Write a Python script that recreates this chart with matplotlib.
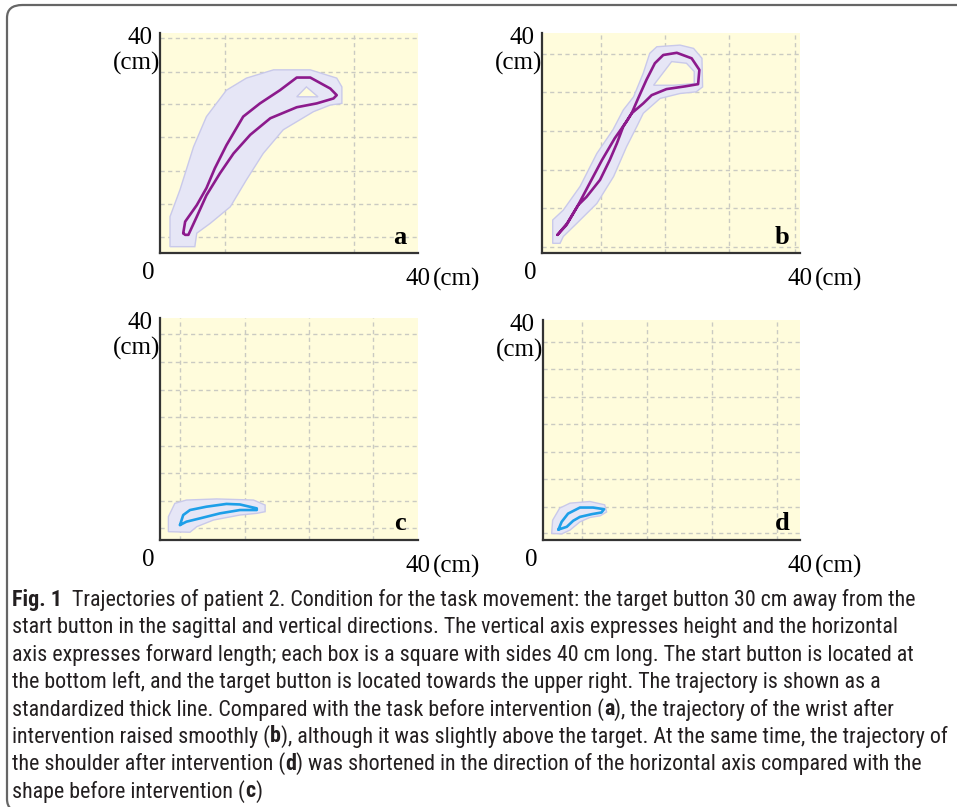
import matplotlib
matplotlib.use('Agg')
import matplotlib.pyplot as plt
from matplotlib import font_manager
from matplotlib.patches import FancyBboxPatch

W, H = 957, 807

# panel a - wrist, before intervention (cm)
a_loop_x = [3.6, 3.9, 5.7, 7.2, 8.5, 10.3, 12.9, 15.5, 18.6, 21.2, 23.3, 26.4, 27.4, 26.9,
            24.3, 21.2, 17.1, 14.0, 11.4, 9.3, 7.2, 5.7, 4.4, 3.9]
a_loop_y = [3.6, 5.7, 8.7, 11.8, 15.4, 19.6, 24.8, 27.2, 29.6, 31.9, 31.9, 29.9, 28.7, 28.1,
            27.2, 26.5, 24.5, 21.5, 18.1, 14.5, 10.5, 6.6, 3.3, 3.3]
a_band_x = [1.55, 1.55, 3.1, 5.2, 7.2, 10.3, 13.4, 17.6, 23.3, 27.4, 28.2, 28.2, 26.4, 23.8,
            19.1, 16.0, 13.4, 10.9, 7.8, 5.7, 5.4]
a_band_y = [1.15, 6.6, 11.5, 19.3, 24.8, 29.6, 31.8, 33.3, 33.3, 31.8, 30.2, 27.2, 26.9, 25.7,
            22.4, 18.1, 13.3, 8.4, 5.4, 3.6, 1.15]
a_hole_x = [22.7, 21.2, 24.5]
a_hole_y = [30.2, 28.4, 28.4]

# panel b - wrist, after intervention
b_loop_x = [2.4, 3.9, 5.6, 7.4, 9.3, 11.3, 13.1, 13.9, 15.7, 17.0, 19.3, 22.2, 24.2, 24.4,
            23.2, 20.9, 18.8, 17.5, 16.2, 14.9, 13.9, 12.6, 11.6, 10.5, 9.0, 6.9, 5.6, 3.8]
b_loop_y = [3.3, 5.4, 8.7, 12.7, 16.9, 20.9, 23.9, 25.4, 27.2, 28.7, 29.8, 30.3, 30.7, 33.3,
            35.4, 36.4, 36.0, 34.5, 31.5, 28.1, 25.4, 23.0, 19.9, 16.9, 13.3, 10.2, 8.7, 5.1]
b_band_x = [1.66, 1.66, 3.3, 5.9, 8.5, 11.0, 12.6, 14.2, 15.7, 16.7, 17.8, 21.4, 23.5, 24.8,
            24.9, 23.9, 21.4, 18.3, 15.7, 14.7, 13.1, 11.1, 8.5, 5.4, 3.3, 2.8]
b_band_y = [1.76, 6.0, 7.8, 12.1, 18.1, 22.4, 26.0, 28.4, 32.7, 36.3, 37.5, 37.8, 37.2, 35.4,
            30.2, 29.3, 29.0, 28.1, 25.4, 23.0, 19.3, 13.9, 9.0, 5.4, 3.0, 1.76]
b_hole_x = [17.3, 20.1, 22.4, 23.6, 23.6, 20.4]
b_hole_y = [30.5, 34.8, 34.5, 33.0, 30.8, 30.5]

# panel c - shoulder, before intervention
c_loop_x = [3.1, 3.6, 4.65, 7.2, 10.3, 12.4, 15.0, 15.0, 12.4, 9.3, 6.2, 4.1]
c_loop_y = [2.7, 4.5, 5.4, 6.0, 6.5, 6.4, 5.7, 5.4, 5.4, 4.8, 3.9, 3.3]
c_band_x = [1.3, 1.3, 2.3, 4.1, 8.8, 14.5, 16.3, 16.3, 15.0, 12.4, 8.3, 5.7, 4.65]
c_band_y = [1.5, 4.2, 6.6, 7.2, 7.4, 7.2, 6.3, 5.1, 4.8, 4.5, 3.6, 2.4, 1.4]

# panel d - shoulder, after intervention
d_loop_x = [2.4, 2.9, 3.9, 5.75, 7.8, 9.5, 9.1, 7.6, 5.75, 4.7, 3.7]
d_loop_y = [1.9, 3.3, 4.8, 5.9, 5.9, 5.6, 5.0, 4.7, 4.2, 3.5, 2.4]
d_band_x = [1.35, 1.5, 2.6, 4.2, 7.3, 9.6, 9.9, 8.9, 7.3, 5.75, 4.2, 2.9]
d_band_y = [1.2, 3.6, 5.8, 6.7, 7.0, 6.4, 5.1, 4.4, 4.1, 3.3, 1.8, 1.1]

# dashed grid of the recording screen (cm)
a_grid_x = [10.1, 30.1]
a_grid_y = [2.9, 8.9, 14.9, 21.1, 27.1, 32.9, 39.1]
b_grid_x = [9.1, 19.1, 29.0, 39.2]
b_grid_y = [1.1, 8.2, 15.1, 22.2, 29.3, 36.2]
c_grid_x = [3.1, 13.2, 23.1, 33.0]
c_grid_y = [2.2, 7.0, 12.1, 16.9, 22.2, 27.0, 32.1, 37.1]
d_grid_x = [6.1, 16.2, 26.3, 36.4]
d_grid_y = [1.3, 6.0, 11.1, 16.0, 21.1, 26.0, 31.1, 36.0]

caption = [
    [("Fig. 1", True), ("  Trajectories of patient 2. Condition for the task movement: the target button 30 cm away from the", False)],
    [("start button in the sagittal and vertical directions. The vertical axis expresses height and the horizontal", False)],
    [("axis expresses forward length; each box is a square with sides 40 cm long. The start button is located at", False)],
    [("the bottom left, and the target button is located towards the upper right. The trajectory is shown as a", False)],
    [("standardized thick line. Compared with the task before intervention (", False), ("a", True),
     ("), the trajectory of the wrist after", False)],
    [("intervention raised smoothly (", False), ("b", True),
     ("), although it was slightly above the target. At the same time, the trajectory of", False)],
    [("the shoulder after intervention (", False), ("d", True),
     (") was shortened in the direction of the horizontal axis compared with the", False)],
    [("shape before intervention (", False), ("c", True), (")", False)],
]

BG = '#fffcdc'
BAND = '#e6e6f6'
BAND_EDGE = '#c9c9ea'
GRID = '#cacac2'
PURPLE = '#8c1a8c'
BLUE = '#1e9fe8'
SERIF = 'Liberation Serif'

# a narrow sans for the caption if one is installed
CAP_FONT, CAP_STRETCH = 'Open Sans', 'normal'
fonts = font_manager.fontManager.ttflist
names = {f.name for f in fonts}
for nm in ['Liberation Sans Narrow', 'Roboto Condensed', 'Open Sans Condensed', 'DejaVu Sans Condensed']:
    if nm in names:
        CAP_FONT = nm
        break
else:
    for f in fonts:
        if f.name in ('Open Sans', 'Noto Sans', 'DejaVu Sans', 'Roboto') and \
                f.stretch in ('condensed', 'semi-condensed', 'extra-condensed') and f.weight in (400, 'normal'):
            CAP_FONT, CAP_STRETCH = f.name, f.stretch
            break

fig = plt.figure(figsize=(W / 100, H / 100), dpi=100)


def fx(x):
    return x / W


def fy(y):
    return 1 - y / H


def panel(rect, lx, ly, bx, by, color, gx, gy, letter, hx=None, hy=None):
    l, t, w, h = rect
    ax = fig.add_axes([fx(l), fy(t + h), w / W, h / H])
    ax.set_facecolor(BG)
    ax.set_xlim(0, 40)
    ax.set_ylim(0, 40)
    for v in gx:
        ax.axvline(v, color=GRID, ls=(0, (3, 2.5)), lw=1, zorder=0)
    for v in gy:
        ax.axhline(v, color=GRID, ls=(0, (3, 2.5)), lw=1, zorder=0)
    ax.fill(bx, by, facecolor=BAND, edgecolor=BAND_EDGE, lw=1, zorder=2)
    if hx is not None:
        ax.fill(hx, hy, facecolor=BG, edgecolor=BAND_EDGE, lw=1, zorder=2)
    ax.plot(lx + [lx[0]], ly + [ly[0]], color=color, lw=1.9, zorder=3,
            solid_joinstyle='round', solid_capstyle='round')
    for s in ['top', 'right']:
        ax.spines[s].set_visible(False)
    for s in ['left', 'bottom']:
        ax.spines[s].set_color('#333333')
        ax.spines[s].set_linewidth(1.6)
    ax.set_xticks([])
    ax.set_yticks([])
    # corner labels
    fig.text(fx(l - 8), fy(t + 5), '40', ha='right', va='center', fontsize=18, family=SERIF)
    fig.text(fx(l), fy(t + 30), '(cm)', ha='right', va='center', fontsize=18, family=SERIF)
    fig.text(fx(l - 12), fy(t + h + 20), '0', ha='center', va='center', fontsize=18, family=SERIF)
    fig.text(fx(l + w - 13), fy(t + h + 26), '40', ha='left', va='center', fontsize=18, family=SERIF)
    fig.text(fx(l + w + 15), fy(t + h + 26), '(cm)', ha='left', va='center', fontsize=18, family=SERIF)
    fig.text(fx(l + w - 18), fy(t + h - 16), letter, ha='center', va='center', fontsize=19,
             family=SERIF, fontweight='bold')
    return ax


panel((160, 33, 258, 220), a_loop_x, a_loop_y, a_band_x, a_band_y, PURPLE, a_grid_x, a_grid_y, 'a',
      a_hole_x, a_hole_y)
panel((542, 33, 258, 220), b_loop_x, b_loop_y, b_band_x, b_band_y, PURPLE, b_grid_x, b_grid_y, 'b',
      b_hole_x, b_hole_y)
panel((160, 318, 258, 222), c_loop_x, c_loop_y, c_band_x, c_band_y, BLUE, c_grid_x, c_grid_y, 'c')
panel((543, 320, 257, 220), d_loop_x, d_loop_y, d_band_x, d_band_y, BLUE, d_grid_x, d_grid_y, 'd')

# open frame round the figure
frame = FancyBboxPatch((fx(7), fy(812)), fx(1100), (812 - 5) / H,
                       boxstyle='round,pad=0,rounding_size=0.016', transform=fig.transFigure,
                       facecolor='none', edgecolor='#666666', lw=1.6, clip_on=False)
fig.patches.append(frame)

# caption, bold pieces placed by measuring the text drawn before them
r = fig.canvas.get_renderer()


def cap_text(x, y, s, size, bold):
    return fig.text(fx(x), fy(y), s, fontsize=size, family=CAP_FONT, fontstretch=CAP_STRETCH,
                    va='center', ha='left', color='#231f20', fontweight='bold' if bold else 'normal')


def line_width(parts, size):
    w = 0
    for s, b in parts:
        t = cap_text(0, 0, s, size, b)
        w += t.get_window_extent(renderer=r).width
        t.remove()
    return w


size = 10 * 928 / line_width(caption[5], 10)
for i, parts in enumerate(caption):
    x = 12
    y = 600 + i * 27.3
    for s, b in parts:
        t = cap_text(x, y, s, size, b)
        x += t.get_window_extent(renderer=r).width

fig.savefig('out.png', dpi=100)
